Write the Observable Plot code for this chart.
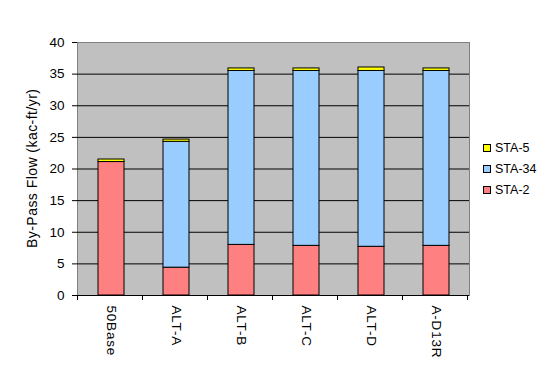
<!DOCTYPE html>
<html><head><meta charset="utf-8">
<script src="https://cdn.jsdelivr.net/npm/d3@7"></script>
<script src="https://cdn.jsdelivr.net/npm/@observablehq/plot@0.6"></script>
<style>body{margin:0;background:#fff;}</style>
</head><body><div id="chart"></div>
<script>
const categories = ["50Base","ALT-A","ALT-B","ALT-C","ALT-D","A-D13R"];
const seriesNames = ["STA-2","STA-34","STA-5"];
const sta2 = [21.1, 4.4, 8.0, 7.85, 7.7, 7.85];
const sta34 = [0, 19.9, 27.5, 27.65, 27.8, 27.65];
const sta5 = [0.4, 0.35, 0.4, 0.4, 0.55, 0.4];
const seriesColors = ["#ff8080","#99ccff","#ffff00"];
const yTicks = [0,5,10,15,20,25,30,35,40];
const yLabel = "By-Pass Flow (kac-ft/yr)";
const legendOrder = ["STA-5","STA-34","STA-2"];

const values = [sta2, sta34, sta5];
const rows = [];
seriesNames.forEach((s,i)=>categories.forEach((c,j)=>rows.push({category:c, series:s, value:values[i][j]})));

const FONT = '"Liberation Sans", Arial, sans-serif';
const chart = Plot.plot({
  width:550, height:377, marginLeft:77, marginRight:81, marginTop:42, marginBottom:82,
  style:{fontFamily:FONT, fontSize:"13.5px", color:"#000", background:"#fff", overflow:"visible"},
  x:{domain:categories, paddingInner:0.6, paddingOuter:0.3, tickSize:0, tickPadding:10, tickRotate:90, label:null},
  y:{domain:[0,40], ticks:yTicks, tickSize:5, tickPadding:8, label:null, line:true, tickFormat:d=>String(d)},
  color:{domain:seriesNames, range:seriesColors},
  marks:[
    Plot.frame({fill:"#c0c0c0", stroke:"#808080"}),
    Plot.ruleY(yTicks.slice(1,-1), {stroke:"#000"}),
    Plot.barY(rows, Plot.stackY({x:"category", y:"value", fill:"series", stroke:"#000", strokeWidth:1})),
    Plot.ruleY([0], {stroke:"#000"})
  ]
});
document.getElementById("chart").appendChild(chart);

const svg = chart;
const fr = svg.querySelector('[aria-label="frame"]');
if (fr) { let n = fr; while (n.parentNode !== svg) n = n.parentNode; svg.insertBefore(n, svg.firstChild); }

d3.select(svg).selectAll('g[aria-label^="x-axis"] text').style("letter-spacing","0.8px");

const xs = chart.scale("x");
const ys = chart.scale("y");
const g = d3.select(svg).append("g");
const x0 = xs.range[0];
const y0 = ys.apply(0);
for (let i = 0; i <= categories.length; i++) {
  const x = Math.round(x0 + i * xs.step) + 0.5;
  g.append("line").attr("x1", x).attr("x2", x).attr("y1", y0).attr("y2", y0 + 5).attr("stroke", "#000");
}
g.append("text").attr("transform", `translate(37,${(ys.apply(0)+ys.apply(40))/2}) rotate(-90)`)
  .attr("text-anchor","middle").style("font-family",FONT).style("font-size","14px")
  .attr("textLength",159).attr("lengthAdjust","spacing")
  .attr("fill","#000").text(yLabel);
const lg = d3.select(svg).append("g").attr("text-anchor","start");
legendOrder.forEach((s,i)=>{
  const cy = 147.5 + i*21.2;
  lg.append("rect").attr("x",483.5).attr("y",Math.round(cy-4)+0.5).attr("width",7).attr("height",7)
    .attr("fill", seriesColors[seriesNames.indexOf(s)]).attr("stroke","#000");
  lg.append("text").attr("x",495).attr("y",cy).attr("dy","0.36em").attr("text-anchor","start")
    .style("font-family",FONT).style("font-size","12.5px").attr("fill","#000").text(s);
});
</script></body></html>
